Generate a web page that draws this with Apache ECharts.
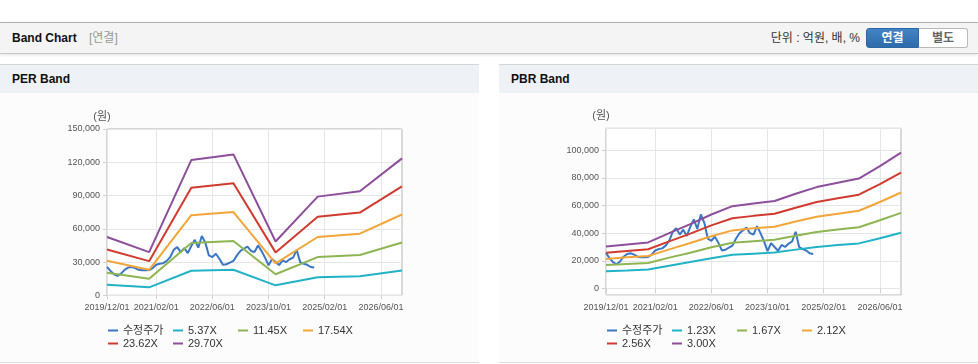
<!DOCTYPE html>
<html><head><meta charset="utf-8">
<script src="https://cdn.jsdelivr.net/npm/echarts@6/dist/echarts.min.js"></script>
<style>
html,body{margin:0;padding:0;background:#fff;}
body{width:978px;height:364px;position:relative;overflow:hidden;font-family:'Liberation Sans',Arial,'Noto Sans CJK KR',sans-serif;}
.hdr{position:absolute;left:0;top:22px;width:978px;height:30px;background:#f4f4f4;border-top:1px solid #b0b0b0;border-bottom:1px solid #c8c8c8;box-shadow:0 1px 3px rgba(0,0,0,0.12);}
.hdr .t{position:absolute;left:12px;top:7px;font-size:12px;font-weight:bold;color:#111;line-height:16px;}
.hdr .s{position:absolute;left:89px;top:7px;font-size:12px;color:#999;line-height:16px;}
.unit{position:absolute;right:118px;top:7px;font-size:12px;color:#333;line-height:16px;}
.btn{position:absolute;top:5px;height:18px;line-height:18px;font-size:12px;font-weight:bold;text-align:center;}
.b1{left:866px;width:51px;background:linear-gradient(#4384c6,#2d6bab);color:#fff;border:1px solid #2c66a3;border-radius:3px 0 0 3px;}
.b2{left:919px;width:48px;background:#fff;color:#666;border:1px solid #b9b9b9;border-left:none;border-radius:0 3px 3px 0;}
.panel{position:absolute;top:64px;width:479px;height:297px;background:#fcfcfc;border-top:1px solid #d6d6d6;border-bottom:1px solid #dcdcdc;}
.ph{position:absolute;left:0;top:0;width:479px;height:28px;background:#eef2f7;}
.ph span{position:absolute;left:12px;top:6px;font-size:12px;font-weight:bold;color:#111;line-height:16px;}
.chart{position:absolute;top:93px;width:479px;height:268px;}
</style></head>
<body>
<div class="hdr"><span class="t">Band Chart</span><span class="s">[연결]</span>
<span class="unit">단위 : 억원, 배, %</span>
<span class="btn b1">연결</span><span class="btn b2">별도</span></div>
<div class="panel" style="left:0"><div class="ph"><span>PER Band</span></div></div>
<div class="panel" style="left:499px"><div class="ph"><span>PBR Band</span></div></div>
<div id="per" class="chart" style="left:0"></div>
<div id="pbr" class="chart" style="left:499px"></div>
<script>
// ---------- data ----------
const tickLabels = ['2019/12/01','2021/02/01','2022/06/01','2023/10/01','2025/02/01','2026/06/01'];
// monthly categories 2019/12/01 .. 2026/12/01
const categories = [];
for (let y = 2019, m = 12; y < 2027 || (y === 2027 && m === 0); ) {
  categories.push(y + '/' + String(m).padStart(2, '0') + '/01');
  if (y === 2026 && m === 12) break;
  m++; if (m > 12) { m = 1; y++; }
}
// 수정주가, monthly from 2019/12
const priceValues = [25700,22000,19000,17500,19500,23000,25000,25500,24500,23000,22500,22500,
  22800,24500,27500,28500,29000,31000,34500,41000,43500,39000,42500,38000,
  44500,50000,43000,53500,47500,36000,34500,37500,33000,27500,28000,29500,
  31000,36000,40000,42000,44000,40000,39000,45000,40000,34000,27000,32800,
  30000,27300,31500,30000,32500,34000,41000,30000,28500,27500,25500,25000];

const perDates = ['2019/12/01','2020/12/01','2021/12/01','2022/12/01','2023/12/01','2024/12/01','2025/12/01','2026/12/01'];
const perNames = ['5.37X','11.45X','17.54X','23.62X','29.70X'];
const per537  = [9500, 7200, 22100, 23000, 9000, 16200, 17100, 22300];
const per1145 = [20300,14900,47200, 49000, 19000,34500, 36300, 47600];
const per1754 = [31200,23000,72300, 75100, 28800,52600, 55600, 72900];
const per2362 = [41300,30800,97100, 101000,38700,70900, 74600, 98200];
const per2970 = [52600,38900,122000,127100,48500,89000, 93800, 123500];

const pbrDates = ['2019/12/01','2020/06/01','2020/12/01','2021/06/01','2021/12/01','2022/06/01','2022/12/01','2023/06/01',
  '2023/12/01','2024/06/01','2024/12/01','2025/06/01','2025/12/01','2026/06/01','2026/12/01'];
const pbrNames = ['1.23X','1.67X','2.12X','2.56X','3.00X'];
const pbr123 = [12400,13000,13700,16400,19100,21900,24400,25200,26000,28100,30000,31400,32600,36300,40300];
const pbr167 = [16900,17700,18500,22300,25900,29800,33100,34200,35200,38100,40800,42600,44300,49300,54700];
const pbr212 = [21400,22500,23500,28300,32900,37800,42000,43500,44700,48400,51800,54100,56200,62500,69400];
const pbr256 = [25800,27100,28400,34100,39700,45600,50800,52500,54000,58400,62500,65300,67800,75500,83800];
const pbr300 = [30300,31800,33300,40000,46500,53500,59500,61500,63300,68500,73300,76500,79500,88500,98200];

// ---------- styles ----------
const bandColors = ['#22b2c6','#8db552','#f2a63a','#d03b30','#8d4f9c'];
const priceColor = '#3a76c4';
const FONT = "'Liberation Sans', Arial, 'Noto Sans CJK KR', sans-serif";
const tickSet = new Set(tickLabels);
const showTick = (i, v) => tickSet.has(v);

function spread(dates, vals) {
  const arr = categories.map(() => null);
  dates.forEach((d, i) => { arr[categories.indexOf(d)] = vals[i]; });
  return arr;
}

function makeOption(names, dates, bands, yCfg) {
  const series = [{
    name: '수정주가', type: 'line', data: priceValues, color: priceColor,
    symbol: 'none', lineStyle: { width: 2 }, z: 2
  }];
  bands.forEach((vals, i) => series.push({
    name: names[i], type: 'line', data: spread(dates, vals), color: bandColors[i],
    symbol: 'none', connectNulls: true, lineStyle: { width: 2 }, z: 2
  }));
  return {
    animation: false,
    textStyle: { fontFamily: FONT },
    grid: { left: 107, right: 77, top: yCfg.top, bottom: yCfg.bottom, show: true,
      borderColor: '#b4b4b4', borderWidth: 1, backgroundColor: '#fff' },
    legend: {
      left: 108, top: 231, width: 265, padding: 0, itemGap: 0,
      itemWidth: 10, itemHeight: 2, icon: 'rect',
      textStyle: { fontSize: 11, color: '#333', width: 50, lineHeight: 13, overflow: 'truncate', fontFamily: FONT },
      data: ['수정주가'].concat(names)
    },
    xAxis: {
      type: 'category', data: categories, boundaryGap: false,
      axisLine: { show: false },
      axisTick: { show: true, interval: showTick, length: 4, lineStyle: { color: '#d0d0d0' } },
      axisLabel: { interval: showTick, fontSize: 9, color: '#555', margin: 8, fontFamily: FONT },
      splitLine: { show: true, interval: showTick, lineStyle: { color: '#e6e6e6' } }
    },
    yAxis: Object.assign({
      type: 'value', name: '(원)', nameLocation: 'end', nameGap: 7,
      nameTextStyle: { fontSize: 11, color: '#555', padding: [0, 10, 0, 0], fontFamily: FONT },
      axisLine: { show: false },
      axisTick: { show: true, length: 4, lineStyle: { color: '#d0d0d0' } },
      axisLabel: { fontSize: 9, color: '#555', margin: 7, fontFamily: FONT,
        formatter: v => v.toLocaleString('en-US') },
      splitLine: { show: true, lineStyle: { color: '#e6e6e6' } }
    }, yCfg.axis),
    series: series
  };
}

const perChart = echarts.init(document.getElementById('per'));
perChart.setOption(makeOption(perNames, perDates, [per537, per1145, per1754, per2362, per2970],
  { top: 36, bottom: 65.7, axis: { min: 0, max: 150000, interval: 30000 } }));

const pbrChart = echarts.init(document.getElementById('pbr'));
const pbrOpt = makeOption(pbrNames, pbrDates, [pbr123, pbr167, pbr212, pbr256, pbr300],
  { top: 35.3, bottom: 66, axis: { min: -4700, max: 115800, splitNumber: 6 } });
pbrOpt.yAxis.axisLabel.showMinLabel = false;
pbrOpt.yAxis.axisLabel.showMaxLabel = false;
pbrOpt.yAxis.axisTick.show = true;
pbrChart.setOption(pbrOpt);
</script>
</body></html>
